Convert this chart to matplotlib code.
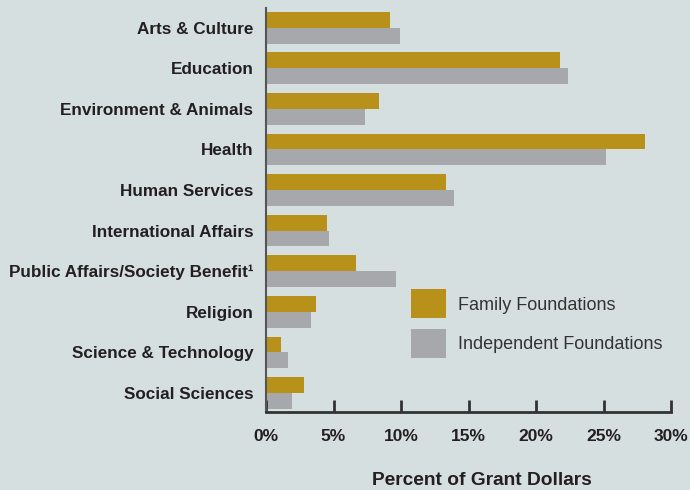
import numpy as np
import matplotlib.pyplot as plt
from matplotlib.patches import Patch

categories = ['Arts & Culture', 'Education', 'Environment & Animals', 'Health',
              'Human Services', 'International Affairs',
              'Public Affairs/Society Benefit\u00b9', 'Religion',
              'Science & Technology', 'Social Sciences']
family = [9.2, 21.8, 8.4, 28.1, 13.3, 4.5, 6.7, 3.7, 1.1, 2.8]
independent = [9.9, 22.4, 7.3, 25.2, 13.9, 4.7, 9.6, 3.3, 1.6, 1.9]
xticks = [0, 5, 10, 15, 20, 25, 30]

bg = '#d5dfe0'
gold = '#b8911a'
grey = '#a7a8ac'
text_color = '#231f20'

plt.rcParams['font.family'] = ['Liberation Sans', 'DejaVu Sans']

fig = plt.figure(figsize=(6.9, 4.9), dpi=100, facecolor=bg)
ax = fig.add_axes([0.3855, 0.159, 0.587, 0.825], facecolor=bg)

y = np.arange(len(categories))
h = 0.39
ax.barh(y - h / 2, family, height=h, color=gold)
ax.barh(y + h / 2, independent, height=h, color=grey)

ax.set_ylim(9.47, -0.49)
ax.set_xlim(0, 30)
ax.set_yticks(y)
ax.set_yticklabels(categories, fontsize=12.3, fontweight='bold', color=text_color)
ax.set_xticks(xticks)
ax.set_xticklabels([f'{t}%' for t in xticks], fontsize=12.5, fontweight='bold',
                   color=text_color)
ax.tick_params(axis='y', length=0, pad=9)
ax.tick_params(axis='x', direction='in', length=9, width=2, color='#333333', pad=12)

for s in ['top', 'right']:
    ax.spines[s].set_visible(False)
ax.spines['bottom'].set_linewidth(2)
ax.spines['bottom'].set_color('#333333')
ax.spines['left'].set_linewidth(1.5)
ax.spines['left'].set_color('#555555')

ax.set_xlabel('Percent of Grant Dollars', fontsize=13.8, fontweight='bold',
              color=text_color)
ax.xaxis.set_label_coords(0.533, -0.148)

handles = [Patch(facecolor=gold, label='Family Foundations'),
           Patch(facecolor=grey, label='Independent Foundations')]
ax.legend(handles=handles, loc='upper left', bbox_to_anchor=(0.319, 0.344),
          frameon=False, fontsize=13, handlelength=1.94, handleheight=2.1,
          labelspacing=0.6, handletextpad=0.65, labelcolor='#333333')

fig.savefig('out.png', dpi=100, facecolor=bg)
